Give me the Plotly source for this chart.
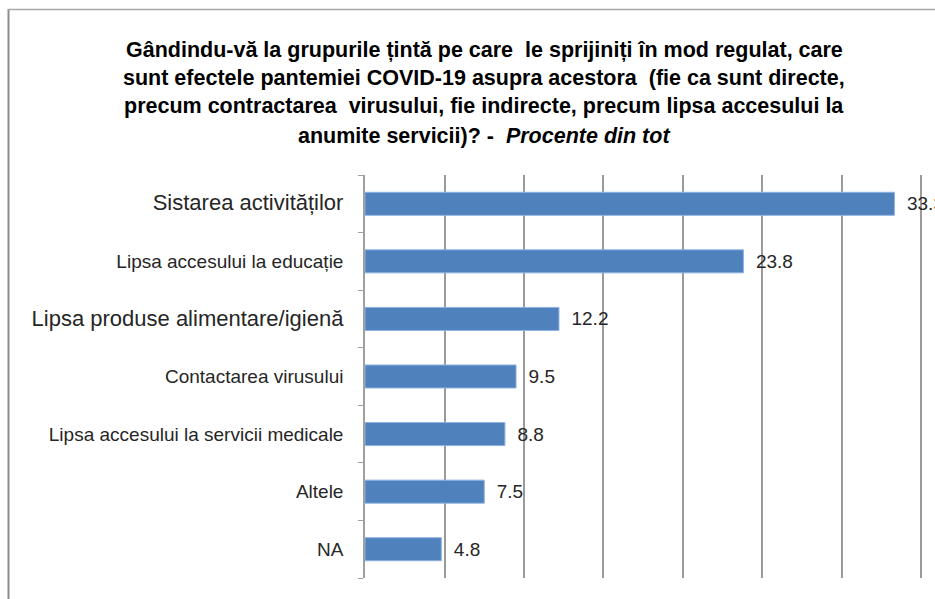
import plotly.graph_objects as go

categories = [
    "Sistarea activităților",
    "Lipsa accesului la educație",
    "Lipsa produse alimentare/igienă",
    "Contactarea virusului",
    "Lipsa accesului la servicii medicale",
    "Altele",
    "NA",
]
values = [33.3, 23.8, 12.2, 9.5, 8.8, 7.5, 4.8]
label_sizes = [22, 19, 22, 19, 19, 19, 19]
title_lines = [
    "Gândindu-vă la grupurile țintă pe care  le sprijiniți în mod regulat, care",
    "sunt efectele pantemiei COVID-19 asupra acestora  (fie ca sunt directe,",
    "precum contractarea  virusului, fie indirecte, precum lipsa accesului la",
    "anumite servicii)? -  <i>Procente din tot</i>",
]

W, H = 935, 599
L, R, T = 365, 0, 175
B = H - 578
pw, ph = W - L - R, H - T - B


def px_x(x):
    return (x - L) / pw


def px_y(y):
    return (H - B - y) / ph


ticktext = [f'<span style="font-size:{s}px">{c}</span>' for c, s in zip(categories, label_sizes)]

fig = go.Figure()
fig.add_trace(go.Bar(
    y=categories,
    x=values,
    orientation="h",
    marker=dict(color="#4f81bd", line=dict(color="#8db3e2", width=1)),
    text=[f"\u2002{v:.1f}" for v in values],
    textposition="outside",
    textfont=dict(family="Liberation Sans, Arial, sans-serif", size=19, color="#262626"),
    constraintext="none",
    cliponaxis=False,
    hoverinfo="skip",
))

title_font = "Liberation Sans Narrow, Arial Narrow, Liberation Sans, sans-serif"
title_y = [50, 78, 106, 136]
for line, yy in zip(title_lines, title_y):
    fig.add_annotation(
        text=f"<b>{line}</b>",
        xref="paper", yref="paper",
        x=px_x(484), y=px_y(yy),
        xanchor="center", yanchor="middle",
        showarrow=False,
        font=dict(family=title_font, size=21.5, color="#000000"),
    )

# outer frame (partially visible)
fig.add_shape(type="line", xref="paper", yref="paper",
              x0=px_x(8.5), x1=px_x(8.5), y0=px_y(9), y1=px_y(605),
              line=dict(color="#8c8c8c", width=2))
fig.add_shape(type="line", xref="paper", yref="paper",
              x0=px_x(8), x1=px_x(945), y0=px_y(9.5), y1=px_y(9.5),
              line=dict(color="#a6a6a6", width=1.5))

fig.update_layout(
    width=W, height=H,
    margin=dict(l=L, r=R, t=T, b=B, pad=0),
    paper_bgcolor="white",
    plot_bgcolor="white",
    showlegend=False,
    bargap=0.6,
    font=dict(family="Liberation Sans, Arial, sans-serif", color="#262626"),
)
fig.update_xaxes(
    range=[0, 35.85],
    dtick=5,
    showgrid=True,
    gridcolor="#9a9a9a",
    gridwidth=1.5,
    showticklabels=False,
    zeroline=False,
    showline=False,
    ticks="",
    fixedrange=True,
)
fig.update_yaxes(
    autorange="reversed",
    tickmode="array",
    tickvals=categories,
    ticktext=ticktext,
    tickson="boundaries",
    ticks="outside",
    ticklen=5,
    tickcolor="#a0a0a0",
    showline=True,
    linecolor="#a0a0a0",
    linewidth=1.5,
    showgrid=False,
    ticklabelstandoff=16,
    tickfont=dict(family="Liberation Sans, Arial, sans-serif", size=19, color="#262626"),
    fixedrange=True,
)

fig.write_html(
    "out.html",
    config={"displayModeBar": False},
    post_script="document.body.style.margin='0';document.documentElement.style.overflow='hidden';",
)
